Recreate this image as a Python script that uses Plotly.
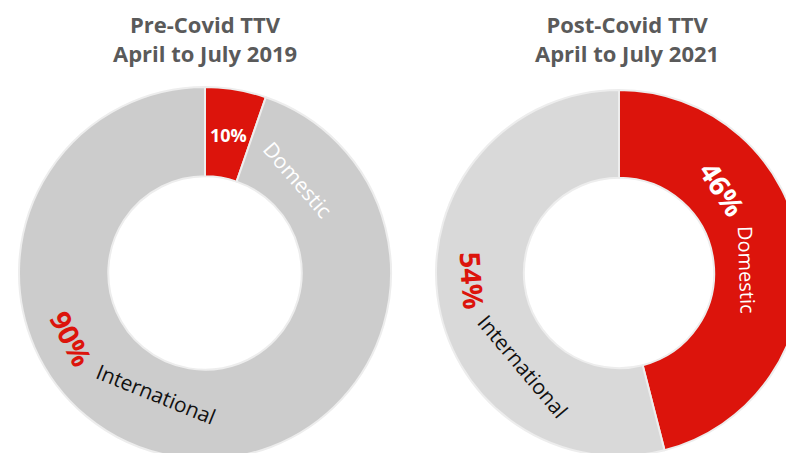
import math
import plotly.graph_objects as go

# ---- data ----
segments = ["Domestic", "International"]
pre_share_drawn = [5.3, 94.7]      # slice sizes as drawn in the picture
pre_labels = ["10%", "90%"]        # labels printed on the chart
post_share = [46, 54]
post_labels = ["46%", "54%"]
title_line1 = ["Pre-Covid TTV", "Post-Covid TTV"]
title_line2 = ["April to July 2019", "April to July 2021"]

W, H = 794, 453
OFF = 8  # page offset of the figure inside the browser window
RED = "#DC140C"
GREY_L = "#CCCCCC"
GREY_R = "#D9D9D9"
TITLE_C = "#5A5A5A"

# pie placement in screen pixels (left, top, right, bottom)
left_box = (19, 87, 391, 459)
right_box = (436, 90, 802, 456)


def dom(box):
    x0, y0, x1, y1 = [v - OFF for v in box]
    return dict(x=[max(0, x0 / W), min(1, x1 / W)], y=[max(0, 1 - y1 / H), min(1, 1 - y0 / H)])


def centre(box):
    x0, y0, x1, y1 = box
    r = min(x1 - x0, y1 - y0) / 2
    return (x0 + x1) / 2, (y0 + y1) / 2, r


def paper(px, py):
    return (px - OFF) / W, 1 - (py - OFF) / H


fig = go.Figure()
fig.add_trace(go.Pie(
    labels=segments, values=pre_share_drawn, hole=0.52, sort=False,
    direction="clockwise", rotation=0, textinfo="none",
    marker=dict(colors=[RED, GREY_L], line=dict(color="#EDEDED", width=2)),
    domain=dom(left_box), showlegend=False,
))
fig.add_trace(go.Pie(
    labels=segments, values=post_share, hole=0.52, sort=False,
    direction="clockwise", rotation=0, textinfo="none",
    marker=dict(colors=[RED, GREY_R], line=dict(color="#EDEDED", width=2)),
    domain=dom(right_box), showlegend=False,
))

annotations = []


def label(box, angle_deg, rfrac, text, size, color, textangle, weight="normal", family="Open Sans"):
    cx, cy, r = centre(box)
    a = math.radians(angle_deg)
    px = cx + rfrac * r * math.sin(a)
    py = cy - rfrac * r * math.cos(a)
    x, y = paper(px, py)
    annotations.append(dict(
        x=x, y=y, xref="paper", yref="paper", text=text, showarrow=False,
        textangle=textangle, xanchor="center", yanchor="middle",
        font=dict(size=size, color=color, family=family, weight=weight),
    ))


# left donut labels
label(left_box, 9.5, 0.75, pre_labels[0], 18, "white", 0, weight="bold")
label(left_box, 45, 0.71, segments[0], 21, "white", 49)
label(left_box, 244, 0.80, pre_labels[1], 28, RED, 63, weight="bold")
label(left_box, 202, 0.70, segments[1], 21, "#111111", 22)

# right donut labels
label(right_box, 51, 0.73, post_labels[0], 28, "white", 57, weight="bold")
label(right_box, 88.7, 0.70, segments[0], 20, "white", 88)
label(right_box, 267, 0.80, post_labels[1], 28, RED, 86, weight="bold")
label(right_box, 226, 0.73, segments[1], 21, "#111111", 50)

# titles (two lines each)
for cx, l1, l2 in [(205, title_line1[0], title_line2[0]), (627, title_line1[1], title_line2[1])]:
    x, y = paper(cx, OFF)
    annotations.append(dict(
        x=x, y=y, xref="paper", yref="paper", text="<b>" + l1 + "<br>" + l2 + "</b>",
        showarrow=False, xanchor="center", yanchor="top", borderpad=0,
        font=dict(size=22, color=TITLE_C, family="Open Sans"),
    ))

fig.update_layout(
    width=W, height=H, margin=dict(l=0, r=0, t=0, b=0),
    paper_bgcolor="white", plot_bgcolor="white",
    annotations=annotations, showlegend=False,
)

fig.write_html("out.html")
